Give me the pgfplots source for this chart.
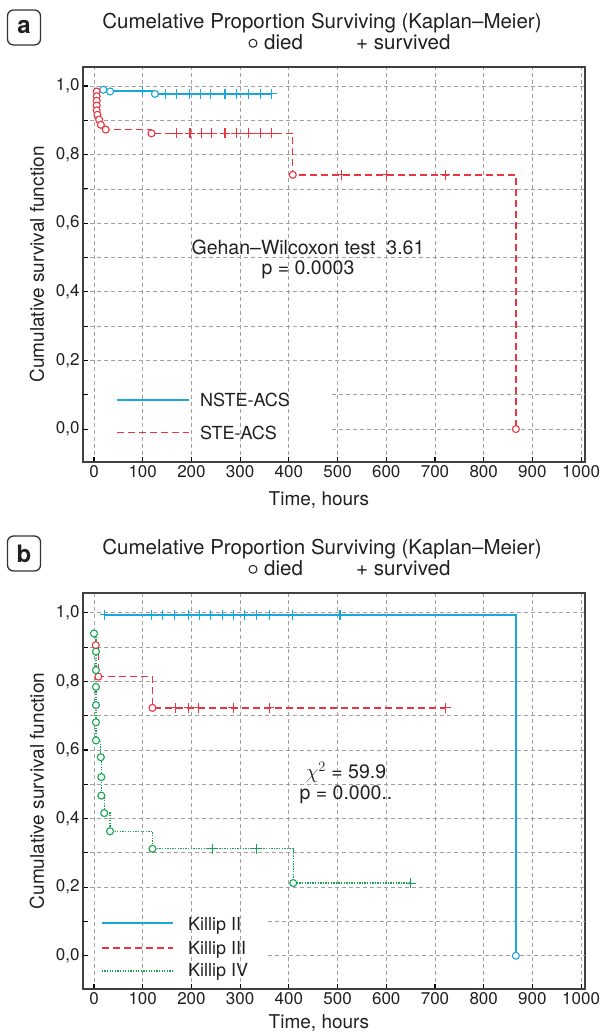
\documentclass[border=0pt]{standalone}
\usepackage{pgfplots}
\pgfplotsset{compat=1.18}
\usepackage{fontspec}
\setmainfont{TeX Gyre Heros}
\definecolor{kmblue}{HTML}{1AA7E0}
\definecolor{kmred}{HTML}{EC3340}
\definecolor{kmgreen}{HTML}{16A653}
\definecolor{txt}{HTML}{231F20}
\definecolor{gridc}{HTML}{A0A0A0}
\tikzset{gridline/.style={gridc, dash pattern=on 4bp off 3bp, line width=0.8bp}}
\pgfplotsset{
  kmaxis/.style={
    scale only axis, width=502bp, anchor=south west,
    xmin=-22.6, xmax=1008,
    xtick={0,100,...,1000},
    /pgf/number format/1000 sep={},
    ytick={0.2,0.4,0.6,0.8,1.0},
    yticklabels={{0,2},{0,4},{0,6},{0,8},{1,0}},
    minor ytick={0.3,0.5,0.7,0.9},
    extra y ticks={0,0.1},
    extra y tick labels={{0,0},{}},
    extra tick style={grid=none},
    xmajorgrids, ymajorgrids, yminorgrids,
    major grid style={gridline},
    minor grid style={gridline},
    tick align=inside, tick pos=left,
    major tick length=5bp, minor tick length=5bp,
    tick style={black, line width=1.1bp},
    axis line style={black!75, line width=1.2bp},
    ticklabel style={font=\fontsize{17bp}{19bp}\selectfont, text=txt},
    /pgf/number format/assume math mode=true,
    label style={font=\fontsize{19bp}{22bp}\selectfont, text=txt},
    ylabel={Cumulative survival function},
    xlabel={Time, hours},
    ylabel style={at={(axis description cs:-0.0916,0.5)}, anchor=center},
  },
  bluel/.style={kmblue, line width=2bp, const plot, no marks},
  redl/.style={kmred, line width=1.4bp, dash pattern=on 7bp off 4bp, const plot, no marks},
  greenl/.style={kmgreen, line width=1.3bp, dash pattern=on 1.3bp off 1.3bp, const plot, no marks},
  died/.style={only marks, mark=*, mark size=3.5bp, mark options={solid, fill=white, draw=#1, line width=1.1bp}},
  cens/.style={only marks, color=#1, mark=+, mark size=5bp, mark options={solid, draw=#1, line width=1.1bp}},
}
\begin{document}
\begin{tikzpicture}
\useasboundingbox (0bp,0bp) rectangle (601bp,1036bp);
% ---------------- panel a ----------------
\draw[rounded corners=6bp, line width=1.3bp, black!80] (7.5bp,991bp) rectangle (40.5bp,1026bp);
\node[font=\fontsize{24bp}{26bp}\selectfont\bfseries, text=txt] at (24bp,1008.5bp) {a};
\node[anchor=base, font=\fontsize{20.5bp}{22bp}\selectfont, text=txt] at (322bp,1007.7bp) {Cumelative Proportion Surviving (Kaplan–Meier)};
\draw[txt, line width=1bp] (253bp,992.7bp) circle (4bp);
\node[anchor=base west, font=\fontsize{20.5bp}{22bp}\selectfont, text=txt, inner sep=0pt] at (264bp,986bp) {died};
\node[anchor=base west, font=\fontsize{20.5bp}{22bp}\selectfont, text=txt, inner sep=0pt] at (356bp,986bp) {+ survived};
\begin{axis}[kmaxis, at={(83bp,574bp)}, height=395bp, ymin=-0.096, ymax=1.0554,
  xlabel style={at={(axis description cs:0.470,-0.1114)}, anchor=base}]
\draw[gridline] (axis cs:489,0) -- (axis cs:1008,0);
\draw[gridline] (axis cs:489,0.1) -- (axis cs:1008,0.1);
% NSTE-ACS
\addplot[bluel] coordinates {(19,0.989) (33,0.984) (125,0.977) (365,0.977)};
\addplot[cens=kmblue] coordinates {(99,0.984) (146,0.977) (170,0.977) (196,0.977) (218,0.977) (240,0.977) (269,0.977) (293,0.977) (317,0.977) (341,0.977) (365,0.977)};
\addplot[died=kmblue] coordinates {(19,0.989) (33,0.984) (125,0.977)};
% STE-ACS
\addplot[redl] coordinates {(5.5,0.984) (5.5,0.970) (5.5,0.957) (5.5,0.943) (5.5,0.929) (7,0.916) (10.5,0.902) (14,0.887) (24,0.873) (118,0.862) (408,0.741) (866,0.0)};
\addplot[cens=kmred] coordinates {(170,0.862) (197,0.862) (221,0.862) (242,0.862) (269,0.862) (293,0.862) (317,0.862) (341,0.862) (365,0.862) (508,0.741) (601,0.741) (721,0.741)};
\addplot[died=kmred] coordinates {(5.5,0.984) (5.5,0.970) (5.5,0.957) (5.5,0.943) (5.5,0.929) (7,0.916) (10.5,0.902) (14,0.887) (24,0.873) (118,0.862) (408,0.741) (866,0.0)};
\end{axis}
\node[anchor=base, font=\fontsize{19.5bp}{21bp}\selectfont, text=txt] at (308bp,781bp) {Gehan–Wilcoxon test\ \ 3.61};
\node[anchor=base, font=\fontsize{19.5bp}{21bp}\selectfont, text=txt] at (308bp,761bp) {p = 0.0003};
\draw[kmblue, line width=2bp] (116.7bp,636bp) -- (189.3bp,636bp);
\node[anchor=base west, inner sep=0pt, font=\fontsize{18bp}{20bp}\selectfont, text=txt] at (200bp,629.3bp) {NSTE-ACS};
\draw[kmred, line width=1.4bp, dash pattern=on 7bp off 4bp] (116.7bp,603.3bp) -- (189.3bp,603.3bp);
\node[anchor=base west, inner sep=0pt, font=\fontsize{18bp}{20bp}\selectfont, text=txt] at (200bp,596bp) {STE-ACS};
% ---------------- panel b ----------------
\draw[rounded corners=6bp, line width=1.3bp, black!80] (7.5bp,465bp) rectangle (40.5bp,500bp);
\node[font=\fontsize{24bp}{26bp}\selectfont\bfseries, text=txt] at (24bp,482.5bp) {b};
\node[anchor=base, font=\fontsize{20.5bp}{22bp}\selectfont, text=txt] at (322bp,481.7bp) {Cumelative Proportion Surviving (Kaplan–Meier)};
\draw[txt, line width=1bp] (253bp,466.7bp) circle (4bp);
\node[anchor=base west, font=\fontsize{20.5bp}{22bp}\selectfont, text=txt, inner sep=0pt] at (264bp,460bp) {died};
\node[anchor=base west, font=\fontsize{20.5bp}{22bp}\selectfont, text=txt, inner sep=0pt] at (356bp,460bp) {+ survived};
\begin{axis}[kmaxis, at={(83bp,47bp)}, height=396bp, ymin=-0.097, ymax=1.058,
  xlabel style={at={(axis description cs:0.470,-0.0985)}, anchor=base}]
\draw[gridline] (axis cs:357,0) -- (axis cs:1008,0);
\draw[gridline] (axis cs:357,0.1) -- (axis cs:1008,0.1);
% Killip II
\addplot[bluel] coordinates {(22,0.995) (866,0.0)};
\addplot[cens=kmblue] coordinates {(22,0.995) (118,0.995) (141,0.995) (166,0.995) (194,0.995) (216,0.995) (240,0.995) (264,0.995) (286,0.995) (309,0.995) (333,0.995) (360,0.995) (408,0.995) (505,0.995)};
\addplot[died=kmblue] coordinates {(866,0.0)};
% Killip III
\addplot[redl] coordinates {(3.5,0.906) (9,0.814) (120,0.723) (722,0.723)};
\addplot[cens=kmred] coordinates {(168,0.723) (194,0.723) (214,0.723) (286,0.723) (360,0.723) (722,0.723)};
\addplot[died=kmred] coordinates {(3.5,0.906) (9,0.814) (120,0.723)};
% Killip IV
\addplot[greenl] coordinates {(0,0.940) (4,0.887) (4,0.833) (4,0.784) (4,0.731) (4,0.681) (4,0.628) (14,0.579) (15,0.521) (15,0.467) (21,0.416) (33,0.363) (120,0.312) (409,0.212) (650,0.212)};
\addplot[cens=kmgreen] coordinates {(243,0.312) (334,0.312) (650,0.212)};
\addplot[died=kmgreen] coordinates {(0,0.940) (4,0.887) (4,0.833) (4,0.784) (4,0.731) (4,0.681) (4,0.628) (14,0.579) (15,0.521) (15,0.467) (21,0.416) (33,0.363) (120,0.312) (409,0.212)};
\end{axis}
\node[anchor=base, font=\fontsize{19.5bp}{21bp}\selectfont, text=txt] at (346bp,257bp) {$\chi^2$ = 59.9};
\node[anchor=base, font=\fontsize{19.5bp}{21bp}\selectfont, text=txt] at (346bp,236bp) {p = 0.000..};
\draw[kmblue, line width=2bp] (101.7bp,112.7bp) -- (173.3bp,112.7bp);
\node[anchor=base west, inner sep=0pt, font=\fontsize{18bp}{20bp}\selectfont, text=txt] at (188bp,105.3bp) {Killip II};
\draw[kmred, line width=1.4bp, dash pattern=on 7bp off 4bp] (101.7bp,88bp) -- (173.3bp,88bp);
\node[anchor=base west, inner sep=0pt, font=\fontsize{18bp}{20bp}\selectfont, text=txt] at (188bp,81bp) {Killip III};
\draw[kmgreen, line width=1.3bp, dash pattern=on 1.3bp off 1.3bp] (101.7bp,65bp) -- (173.3bp,65bp);
\node[anchor=base west, inner sep=0pt, font=\fontsize{18bp}{20bp}\selectfont, text=txt] at (188bp,59.3bp) {Killip IV};
\end{tikzpicture}
\end{document}
